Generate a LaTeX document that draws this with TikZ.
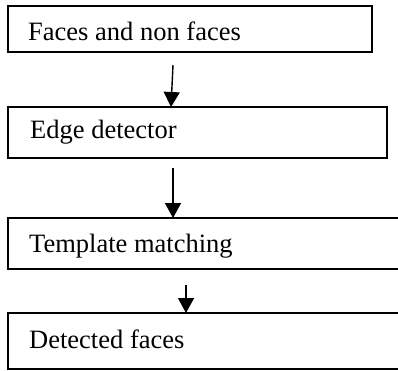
\documentclass[tikz,border=0pt]{standalone}
\usepackage{fontspec}
\setmainfont{Liberation Serif}
\usetikzlibrary{arrows.meta}
\begin{document}
\begin{tikzpicture}[x=1pt,y=-1pt,
  box/.style={draw, line width=1.4pt, rectangle, inner sep=0pt, outer sep=0pt, anchor=north west},
  lbl/.style={anchor=base west, inner sep=0pt, font=\fontsize{26.5}{30}\selectfont},
  arr/.style={line width=1.4pt, -{Triangle[width=16pt,length=15pt]}}]
\useasboundingbox[clip] (0,0) rectangle (398,371);
\fill[white] (0,0) rectangle (398,371);
\node[box, minimum width=364pt, minimum height=46pt] (b1) at (8,6) {};
\node[box, minimum width=379pt, minimum height=51pt] (b2) at (8,107) {};
\node[box, minimum width=402pt, minimum height=51pt] (b3) at (8,218) {};
\node[box, minimum width=402pt, minimum height=56pt] (b4) at (8,313) {};
\node[lbl] (t1) at (28,41) {Faces and non faces};
\node[lbl] (t2) at (30,139) {Edge detector};
\node[lbl] (t3) at (29,252) {Template matching};
\node[lbl] (t4) at (29,348) {Detected faces};
\coordinate (a1) at (173,65);
\coordinate (a2) at (173,168);
\coordinate (a3) at (186,285);
\draw[arr] (a1) -- (b2.north -| 171,0);
\draw[arr] (a2) -- (b3.north -| 173,0);
\draw[arr] (a3) -- (b4.north -| 186,0);
\end{tikzpicture}
\end{document}
